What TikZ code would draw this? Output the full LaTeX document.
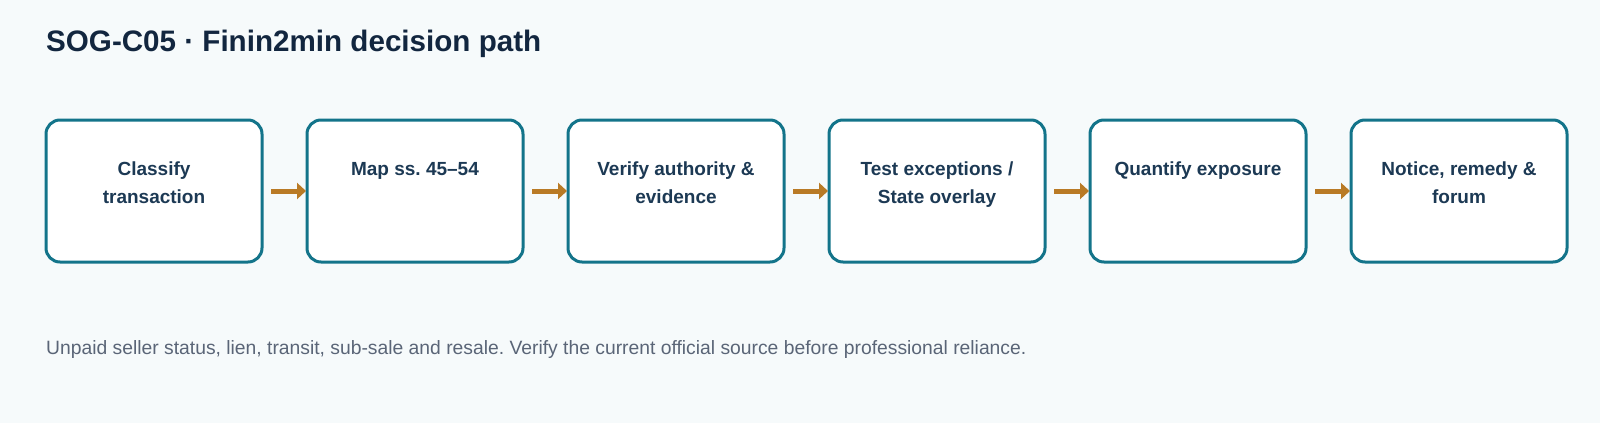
\documentclass[tikz,border=0pt]{standalone}
\usepackage{fontspec}
\setmainfont{Liberation Sans}
\usepackage{xcolor}
\usetikzlibrary{arrows.meta, positioning}

\definecolor{pagebg}{HTML}{F6FAFB}
\definecolor{stepedge}{HTML}{13748A}
\definecolor{steptext}{HTML}{1C3954}
\definecolor{titleink}{HTML}{12263F}
\definecolor{flowink}{HTML}{B97A25}
\definecolor{noteink}{HTML}{5A6577}

\frenchspacing

\begin{document}
\begin{tikzpicture}[
  x=1pt, y=-1pt,
  stepbox/.style  = {draw=stepedge, fill=white, line width=3pt, rounded corners=14pt,
                     minimum width=216pt, minimum height=142pt, inner sep=0pt, outer sep=0pt},
  steplbl/.style  = {anchor=north, inner sep=0pt, align=center, text=steptext,
                     font=\bfseries\fontsize{19}{28}\selectfont},
  flow/.style     = {-{Triangle[length=9pt, width=16pt]}, flowink, line width=5pt},
]

\useasboundingbox (0,0) rectangle (1600,423);
\fill[pagebg] (0,0) rectangle (1600,423);

\node[anchor=base west, inner sep=0pt, text=titleink,
      font=\bfseries\fontsize{29.6}{34}\selectfont] (title) at (46,51)
  {SOG-C05 · Finin2min decision path};

% the six steps
\foreach \i/\cx/\txt in {1/154/{Classify\\transaction},
                         2/415/{Map ss. 45–54},
                         3/676/{Verify authority \&\\evidence},
                         4/937/{Test exceptions /\\State overlay},
                         5/1198/{Quantify exposure},
                         6/1459/{Notice, remedy \&\\forum}}{
  \node[stepbox] (b\i) at (\cx,191) {};
  \node[steplbl, below=42pt of b\i.north] (t\i) {\txt};
}

\foreach \i/\j in {1/2, 2/3, 3/4, 4/5, 5/6}
  \draw[flow] ([xshift=9pt]b\i.east) -- ([xshift=-1pt]b\j.west);

\node[anchor=base west, inner sep=0pt, text=noteink,
      font=\fontsize{19.3}{23}\selectfont] (note) at (46,354)
  {Unpaid seller status, lien, transit, sub-sale and resale. Verify the current official source before professional reliance.};

\end{tikzpicture}
\end{document}
